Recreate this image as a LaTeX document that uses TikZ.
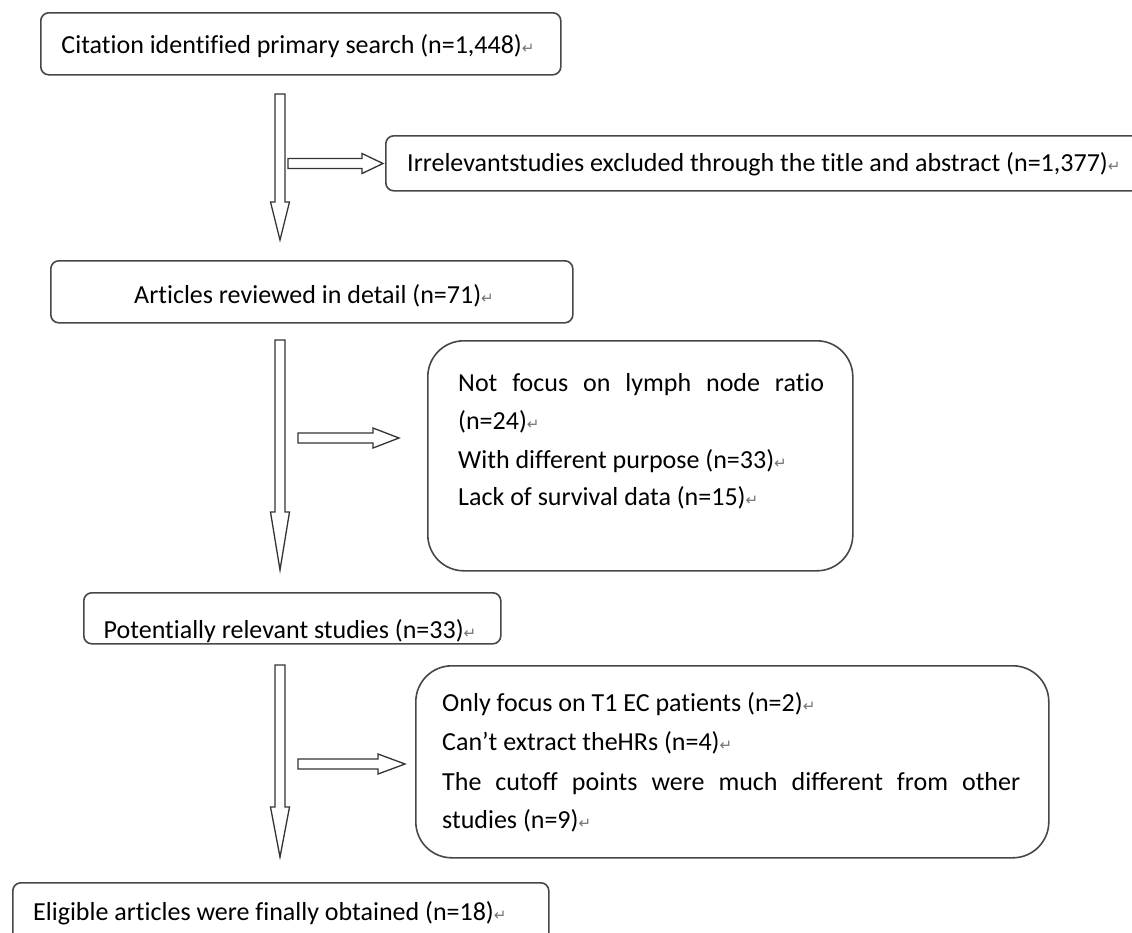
\documentclass[tikz,border=0pt]{standalone}
\usepackage{fontspec}
\setmainfont{Carlito}[Ligatures=NoCommon]
\newfontfamily\symfont{DejaVu Sans}
\usetikzlibrary{calc}

% paragraph mark left by the word processor
\newcommand\retmk{{\symfont\fontsize{15}{15}\selectfont\textcolor{black!55}{↵}}}

% hollow block arrows: start point, tip, head length
\newcommand\downblock[3]{%
  \draw[blockarrow] let \p1=(#1), \p2=(#2) in
    (\x1-5pt,\y1) -- (\x1+5pt,\y1) -- (\x1+5pt,\y2+#3) -- (\x1+9.5pt,\y2+#3)
    -- (\x1,\y2) -- (\x1-9.5pt,\y2+#3) -- (\x1-5pt,\y2+#3) -- cycle;}
\newcommand\rightblock[3]{%
  \draw[blockarrow] let \p1=(#1), \p2=(#2) in
    (\x1,\y1+5pt) -- (\x2-#3,\y1+5pt) -- (\x2-#3,\y1+10pt) -- (\x2,\y1)
    -- (\x2-#3,\y1-10pt) -- (\x2-#3,\y1-5pt) -- (\x1,\y1-5pt) -- cycle;}

\tikzset{
  box/.style={draw=black!72, line width=1.6pt, rounded corners=8pt,
    inner sep=0pt, anchor=north west},
  bigbox/.style={box, rounded corners=36pt},
  txt/.style={inner sep=0pt, anchor=base west,
    font=\fontsize{26}{30}\selectfont, text=black},
  blockarrow/.style={draw=black!80, line width=1.3pt, fill=white, line join=miter},
}

\begin{document}
\begin{tikzpicture}[x=1pt, y=-1pt]
\clip (0,0) rectangle (1132,932);
\fill[white] (0,0) rectangle (1132,932);

% boxes
\node[box, minimum width=520pt, minimum height=62pt] (b1) at (40,12) {};
\node[box, minimum width=760pt, minimum height=55pt] (b2) at (385,135) {};
\node[box, minimum width=522pt, minimum height=62pt] (b3) at (50,260) {};
\node[bigbox, minimum width=425pt, minimum height=230pt] (b4) at (427,340) {};
\node[box, minimum width=417pt, minimum height=51pt] (b5) at (83,592) {};
\node[bigbox, minimum width=633pt, minimum height=192pt] (b6) at (415,665) {};
\node[box, minimum width=536pt, minimum height=75pt] (b7) at (12,882) {};

% texts
\node[txt, anchor=base] (t1) at (298,53) {Citation identified primary search (n=1,448)\retmk};
\node[txt] (t2) at (407,171) {Irrelevantstudies excluded through the title and abstract (n=1,377)\retmk};
\node[txt, anchor=base] (t3) at (314,303) {Articles reviewed in detail (n=71)\retmk};

\node[txt] (t4a) at (458,391) {\makebox[366pt][s]{Not focus on lymph node ratio}};
\node[txt] (t4b) at (458,429) {(n=24)\retmk};
\node[txt] (t4c) at (458,468) {With different purpose (n=33)\retmk};
\node[txt] (t4d) at (458,505) {Lack of survival data (n=15)\retmk};

% this label sits low in its box, so its descenders are cut by the frame
\begin{scope}
  \clip (b5.north west) rectangle ([yshift=1pt]b5.south east);
  \node[txt, anchor=base] (t5) at (290,638.5) {Potentially relevant studies (n=33)\retmk};
\end{scope}

\node[txt] (t6a) at (442,711) {Only focus on T1 EC patients (n=2)\retmk};
\node[txt] (t6b) at (442,750) {Can’t extract theHRs (n=4)\retmk};
\node[txt] (t6c) at (442,790) {\makebox[578pt][s]{The cutoff points were much different from other}};
\node[txt] (t6d) at (442,828) {studies (n=9)\retmk};

\node[txt] (t7) at (33,920) {Eligible articles were finally obtained (n=18)\retmk};

% arrow end points
\coordinate (d1s) at (280,94);  \coordinate (d1e) at (280,240);
\coordinate (r1s) at (288,163.5); \coordinate (r1e) at (383,163.5);
\coordinate (d2s) at (280,340); \coordinate (d2e) at (280,570);
\coordinate (r2s) at (298,438); \coordinate (r2e) at (399,438);
\coordinate (d3s) at (280,665); \coordinate (d3e) at (280,857);
\coordinate (r3s) at (298,764); \coordinate (r3e) at (405,764);

\downblock{d1s}{d1e}{38pt}
\rightblock{r1s}{r1e}{21pt}
\downblock{d2s}{d2e}{58pt}
\rightblock{r2s}{r2e}{26pt}
\downblock{d3s}{d3e}{50pt}
\rightblock{r3s}{r3e}{27pt}
\end{tikzpicture}
\end{document}
